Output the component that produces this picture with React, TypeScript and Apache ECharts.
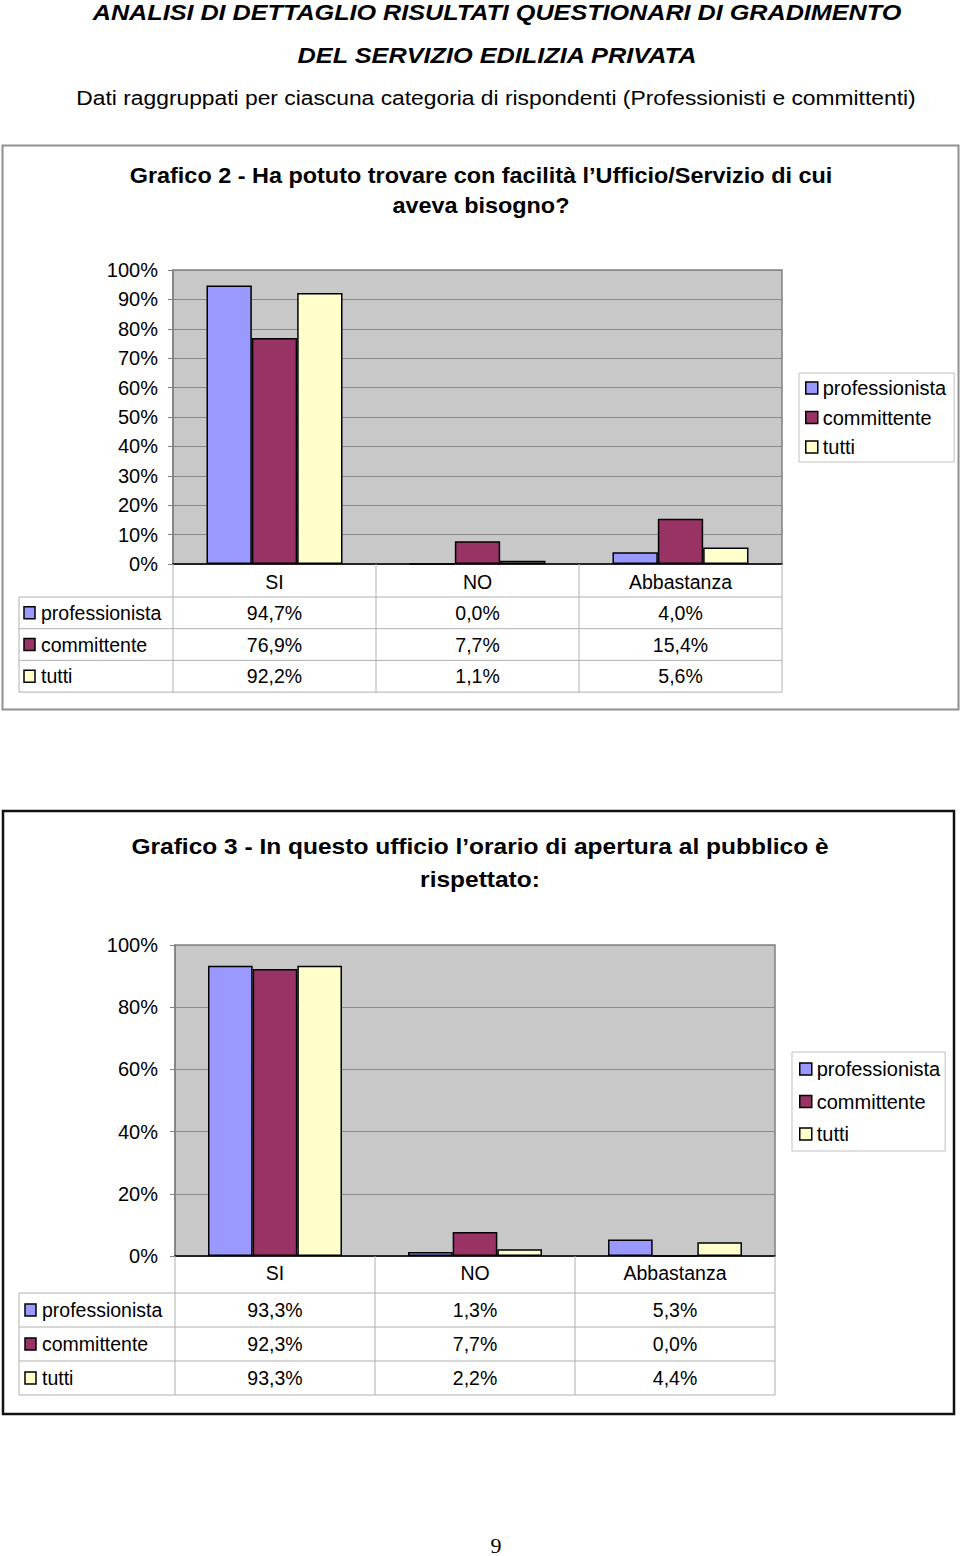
import React, { useEffect, useRef } from "react";
import * as echarts from "echarts";

// ---------- data ----------
const categories = ["SI", "NO", "Abbastanza"];
const seriesNames = ["professionista", "committente", "tutti"];
const seriesColors = ["#9999ff", "#993366", "#ffffcc"];

const g2Professionista = [94.7, 0.0, 4.0];
const g2Committente = [76.9, 7.7, 15.4];
const g2Tutti = [92.2, 1.1, 5.6];

const g3Professionista = [93.3, 1.3, 5.3];
const g3Committente = [92.3, 7.7, 0.0];
const g3Tutti = [93.3, 2.2, 4.4];

const g2Axis = { min: 0, max: 100, interval: 10 };
const g3Axis = { min: 0, max: 100, interval: 20 };

const pageTitle1 = "ANALISI DI DETTAGLIO RISULTATI QUESTIONARI DI GRADIMENTO";
const pageTitle2 = "DEL SERVIZIO EDILIZIA PRIVATA";
const pageSubtitle =
  "Dati raggruppati per ciascuna categoria di rispondenti (Professionisti e committenti)";
const chart2Title = "Grafico 2 - Ha potuto trovare con facilità l’Ufficio/Servizio di cui\naveva bisogno?";
const chart3Title = "Grafico 3 - In questo ufficio l’orario di apertura al pubblico è\nrispettato:";
const pageNumber = "9";

// ---------- layout ----------
const FONT = "Liberation Sans";
const L1 = { left: 173, top: 270, width: 609, height: 294, tableLeft: 19, rowTop: 597, rowH: 31.7, keyX: 24, labelX: 41 };
const L2 = { left: 175, top: 945, width: 600, height: 311, tableLeft: 19, rowTop: 1293, rowH: 34, keyX: 25, labelX: 42 };

const fmt = (v: number) => v.toFixed(1).replace(".", ",") + "%";

function tableGraphics(L: any, rows: number[][]) {
  const els: any[] = [];
  const lineStyle = { stroke: "#b0b0b0", lineWidth: 1 };
  const right = L.left + L.width;
  const bottomAxis = L.top + L.height;
  const tableBottom = L.rowTop + rows.length * L.rowH;
  const colW = L.width / categories.length;
  for (let k = 0; k <= rows.length; k++) {
    const y = L.rowTop + k * L.rowH;
    els.push({ type: "line", shape: { x1: L.tableLeft, y1: y, x2: right, y2: y }, style: lineStyle, z: 10 });
  }
  for (let j = 0; j <= categories.length; j++) {
    const x = L.left + j * colW;
    els.push({ type: "line", shape: { x1: x, y1: bottomAxis, x2: x, y2: tableBottom }, style: lineStyle, z: 10 });
  }
  els.push({ type: "line", shape: { x1: L.tableLeft, y1: L.rowTop, x2: L.tableLeft, y2: tableBottom }, style: lineStyle, z: 10 });
  rows.forEach((vals, i) => {
    const cy = L.rowTop + (i + 0.5) * L.rowH;
    els.push({
      type: "rect",
      shape: { x: L.keyX, y: cy - 6, width: 11, height: 12 },
      style: { fill: seriesColors[i], stroke: "#000", lineWidth: 1.5 },
      z: 11,
    });
    els.push({
      type: "text",
      x: L.labelX,
      y: cy,
      style: { text: seriesNames[i], fontSize: 19.5, fontFamily: FONT, fill: "#000", verticalAlign: "middle", textVerticalAlign: "middle" },
      z: 11,
    });
    vals.forEach((v, j) => {
      els.push({
        type: "text",
        x: L.left + (j + 0.5) * colW,
        y: cy,
        style: {
          text: fmt(v),
          fontSize: 19.5,
          fontFamily: FONT,
          fill: "#000",
          align: "center",
          textAlign: "center",
          verticalAlign: "middle",
          textVerticalAlign: "middle",
        },
        z: 11,
      });
    });
  });
  return els;
}

function centeredText(text: string, x: number, y: number, style: any, scaleX = 1) {
  return {
    type: "text",
    x,
    y,
    scaleX,
    style: {
      text,
      fill: "#000",
      fontFamily: FONT,
      align: "center",
      textAlign: "center",
      verticalAlign: "middle",
      textVerticalAlign: "middle",
      ...style,
    },
    z: 12,
  };
}

export default function App() {
  const ref = useRef<HTMLDivElement>(null);
  useEffect(() => {
    if (!ref.current) return;
    const chart = echarts.init(ref.current, undefined, { renderer: "svg" });

    const g2Rows = [g2Professionista, g2Committente, g2Tutti];
    const g3Rows = [g3Professionista, g3Committente, g3Tutti];

    const gridCommon = {
      show: true,
      backgroundColor: "#c8c8c8",
      borderColor: "#808080",
      borderWidth: 1.5,
      containLabel: false,
      outerBoundsMode: "none",
    };

    const xAxisCommon = (gridIndex: number, margin: number) => ({
      type: "category",
      gridIndex,
      data: categories,
      axisLine: { show: true, lineStyle: { color: "#000", width: 1.5 } },
      axisTick: { show: false },
      axisLabel: { fontSize: 19.5, color: "#000", fontFamily: FONT, margin, interval: 0 },
      splitLine: { show: false },
    });

    const yAxisCommon = (gridIndex: number, ax: any, fontSize: number, margin: number) => ({
      type: "value",
      gridIndex,
      min: ax.min,
      max: ax.max,
      interval: ax.interval,
      axisLine: { show: true, lineStyle: { color: "#808080", width: 1.5 } },
      axisTick: { show: true, length: 5, lineStyle: { color: "#808080" } },
      axisLabel: { formatter: "{value}%", fontSize, color: "#000", fontFamily: FONT, margin },
      splitLine: { show: true, lineStyle: { color: "#8a8a8a", width: 1 } },
    });

    const makeSeries = (rows: number[][], idx: number) =>
      rows.map((data, i) => ({
        type: "bar",
        name: seriesNames[i],
        xAxisIndex: idx,
        yAxisIndex: idx,
        data,
        barGap: "0%",
        barCategoryGap: "33%",
        itemStyle: { color: seriesColors[i], borderColor: "#000", borderWidth: 1.5 },
        emphasis: { disabled: true },
      }));

    const legendCommon = {
      orient: "vertical",
      itemWidth: 12,
      itemHeight: 12,
      icon: "rect",
      borderColor: "#c0c0c0",
      borderWidth: 1,
      backgroundColor: "#fff",
      selectedMode: false,
      textStyle: { fontSize: 20, color: "#000", fontFamily: FONT },
      data: seriesNames.map((n, i) => ({
        name: n,
        itemStyle: { color: seriesColors[i], borderColor: "#000", borderWidth: 1.5 },
      })),
    };

    const graphics: any[] = [
      // chart boxes
      { type: "rect", shape: { x: 2.5, y: 145.5, width: 956, height: 564 }, style: { fill: "none", stroke: "#909090", lineWidth: 2 }, z: 1 },
      { type: "rect", shape: { x: 3, y: 811, width: 951, height: 603 }, style: { fill: "none", stroke: "#111", lineWidth: 2.5 }, z: 1 },
      // page texts
      centeredText(pageTitle1, 497, 13, { fontSize: 22, fontWeight: "bold", fontStyle: "italic" }, 1.145),
      centeredText(pageTitle2, 497, 56, { fontSize: 22, fontWeight: "bold", fontStyle: "italic" }, 1.15),
      centeredText(pageSubtitle, 496, 98, { fontSize: 19.5 }, 1.17),
      centeredText(chart2Title, 481, 191, { fontSize: 21.5, fontWeight: "bold", lineHeight: 30 }, 1.09),
      centeredText(chart3Title, 480, 863, { fontSize: 22.5, fontWeight: "bold", lineHeight: 33 }, 1.09),
      centeredText(pageNumber, 496, 1545, { fontSize: 22, fontFamily: "Liberation Serif" }),
      ...tableGraphics(L1, g2Rows),
      ...tableGraphics(L2, g3Rows),
    ];

    chart.setOption({
      animation: false,
      textStyle: { fontFamily: FONT },
      grid: [
        { ...gridCommon, left: L1.left, top: L1.top, width: L1.width, height: L1.height },
        { ...gridCommon, left: L2.left, top: L2.top, width: L2.width, height: L2.height },
      ],
      xAxis: [xAxisCommon(0, 8), xAxisCommon(1, 7)],
      yAxis: [yAxisCommon(0, g2Axis, 20, 15), yAxisCommon(1, g3Axis, 20, 17)],
      legend: [
        { ...legendCommon, left: 799, top: 373, itemGap: 9.5, padding: [5, 8, 5, 6] },
        { ...legendCommon, left: 792, top: 1052, itemGap: 12.5, padding: [7, 5, 7, 7] },
      ],
      series: [...makeSeries(g2Rows, 0), ...makeSeries(g3Rows, 1)],
      graphic: { elements: graphics },
    });

    return () => chart.dispose();
  }, []);

  return (
    <div
      ref={ref}
      style={{ position: "absolute", left: 0, top: 0, width: 960, height: 1556, background: "#fff" }}
    />
  );
}
